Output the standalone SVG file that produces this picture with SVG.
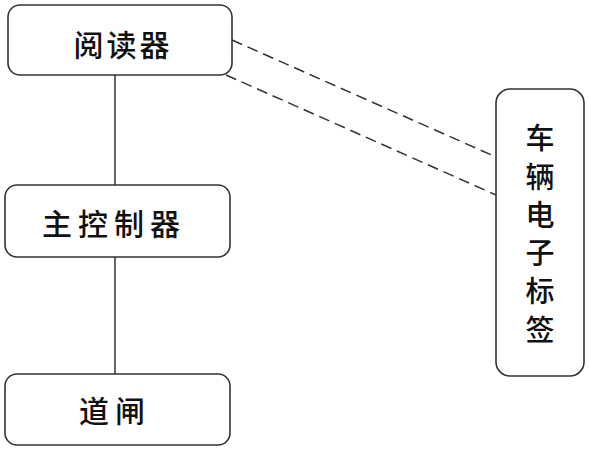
<svg xmlns="http://www.w3.org/2000/svg" width="589" height="450" viewBox="0 0 589 450">
<style>
.box{fill:#fff;stroke:#333;stroke-width:1.6}
.t{font-family:"Noto Sans CJK SC","Noto Sans",sans-serif;font-size:30px;font-weight:500;fill:#111;text-anchor:middle;dominant-baseline:central}
.v{font-size:29px}
.ln{stroke:#333;stroke-width:1.5;fill:none}
.dash{stroke:#333;stroke-width:1.5;fill:none;stroke-dasharray:11 6}
</style>
<rect width="589" height="450" fill="#fff"/>
<g id="connectors">
<line class="ln" x1="115" y1="75" x2="115" y2="185"/>
<line class="ln" x1="115" y1="257" x2="115" y2="374"/>
<line class="dash" x1="232" y1="40" x2="496" y2="157"/>
<line class="dash" x1="226" y1="75" x2="496" y2="195"/>
</g>
<g id="reader">
<rect class="box" x="8" y="5" width="224" height="70" rx="12"/>
<text class="t" x="123" y="43" letter-spacing="3">阅读器</text>
</g>
<g id="controller">
<rect class="box" x="5" y="185" width="225" height="72" rx="12"/>
<text class="t" x="114" y="222" letter-spacing="6">主控制器</text>
</g>
<g id="gate">
<rect class="box" x="5" y="374" width="225" height="71" rx="12"/>
<text class="t" x="115" y="409" letter-spacing="6">道闸</text>
</g>
<g id="tag">
<rect class="box" x="496" y="89" width="88" height="287" rx="14"/>
<text class="t v" x="540" y="136">车</text>
<text class="t v" x="540" y="175">辆</text>
<text class="t v" x="540" y="213">电</text>
<text class="t v" x="540" y="251">子</text>
<text class="t v" x="540" y="289">标</text>
<text class="t v" x="540" y="328">签</text>
</g>
</svg>
